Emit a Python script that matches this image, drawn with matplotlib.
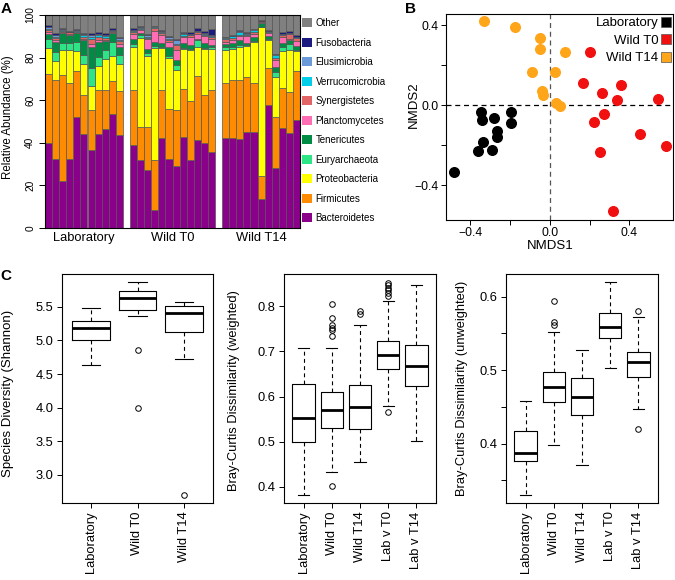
import numpy as np
import matplotlib
matplotlib.use("Agg")
import matplotlib.pyplot as plt
from matplotlib.patches import Patch

plt.rcParams['font.family'] = ['Liberation Sans', 'DejaVu Sans']
plt.rcParams['axes.linewidth'] = 0.8

W, H = 675, 580

# ---------------- Panel A: relative abundance (%) per sample ----------------
# samples: Laboratory (11), Wild T0 (12), Wild T14 (11)
groups = ['Laboratory', 'Wild T0', 'Wild T14']

bacteroidetes = [39.8, 32.3, 21.9, 32.3, 52.0, 44.2, 36.7, 44.2, 46.6, 53.6, 43.8,
                 39.1, 31.7, 27.3, 8.3, 42.2, 32.5, 28.9, 42.7, 32.0, 41.4, 39.8, 35.5,
                 42.2, 42.2, 41.7, 45.3, 45.3, 13.6, 57.8, 28.1, 46.9, 44.5, 50.5]
firmicutes = [32.3, 37.2, 50.0, 35.6, 21.9, 18.3, 18.8, 20.6, 18.0, 15.2, 20.6,
              25.8, 15.9, 20.3, 23.8, 22.7, 23.3, 26.6, 22.5, 27.8, 30.0, 22.7, 29.4,
              25.8, 27.3, 27.8, 25.5, 22.7, 10.6, 17.2, 24.2, 18.8, 19.5, 23.0]
proteobacteria = [12.5, 9.1, 11.7, 15.6, 9.4, 14.4, 11.4, 11.4, 14.7, 12.0, 12.5,
                  20.0, 41.6, 33.3, 52.3, 19.5, 23.9, 18.8, 18.8, 23.8, 13.8, 21.4, 19.1,
                  15.6, 14.4, 15.6, 14.7, 19.5, 70.0, 13.3, 18.8, 17.2, 19.5, 9.4]
euryarchaeota = [3.9, 3.8, 3.4, 3.4, 4.2, 4.4, 8.1, 4.2, 4.4, 6.7, 4.4,
                 1.6, 1.2, 1.1, 1.0, 0.8, 1.0, 2.3, 0.5, 0.5, 3.1, 0.5, 1.2,
                 1.6, 1.2, 0.8, 0.5, 0.5, 0.3, 0.5, 2.3, 2.3, 3.1, 0.8]
tenericutes = [2.8, 4.7, 4.4, 3.6, 3.9, 7.0, 10.2, 7.0, 3.9, 3.9, 3.9,
               2.2, 1.0, 1.9, 2.0, 1.6, 4.5, 2.3, 2.3, 1.6, 0.6, 2.3, 0.8,
               1.1, 1.9, 2.3, 0.9, 1.6, 1.9, 1.2, 2.3, 1.6, 1.6, 1.6]
planctomycetes = [0.6, 1.0, 0.4, 0.5, 0.3, 0.6, 1.0, 1.0, 0.8, 0.4, 1.0,
                  2.5, 1.6, 4.7, 5.0, 3.9, 2.3, 4.7, 2.8, 3.9, 2.3, 3.4, 2.7,
                  1.1, 1.1, 1.9, 3.1, 1.6, 0.3, 1.6, 3.1, 3.1, 0.5, 2.3]
synergistetes = [1.2, 1.2, 0.6, 0.8, 0.4, 1.0, 2.5, 1.2, 1.0, 0.5, 1.4,
                 0.8, 0.5, 0.5, 1.5, 0.8, 0.8, 2.3, 0.5, 0.8, 0.6, 0.6, 0.8,
                 1.2, 1.1, 0.5, 0.8, 0.6, 0.3, 0.5, 0.8, 0.5, 2.3, 1.6]
verrucomicrobia = [0.5, 0.6, 0.4, 0.2, 0.6, 0.5, 1.0, 0.8, 0.7, 0.3, 0.6,
                   0.5, 0.3, 0.5, 0.4, 0.4, 0.4, 0.4, 1.2, 0.4, 0.4, 0.4, 0.5,
                   0.5, 0.8, 1.6, 0.4, 1.2, 0.2, 0.3, 1.6, 0.3, 0.3, 0.3]
elusimicrobia = [0.8, 0.6, 0.4, 0.2, 0.3, 0.5, 1.0, 0.8, 0.7, 0.3, 0.8,
                 0.5, 0.4, 1.1, 0.4, 0.4, 1.2, 1.9, 0.3, 0.4, 0.4, 0.4, 0.5,
                 0.5, 0.3, 0.3, 0.3, 0.3, 0.2, 0.3, 0.3, 0.3, 0.3, 0.3]
fusobacteria = [0.8, 1.0, 0.5, 0.2, 0.3, 0.5, 0.8, 0.9, 0.7, 0.8, 0.6,
                0.8, 0.6, 0.3, 0.3, 0.8, 0.3, 0.3, 0.3, 0.8, 1.1, 0.9, 2.8,
                0.3, 0.3, 0.3, 0.3, 0.3, 0.2, 0.3, 0.3, 1.2, 0.8, 0.8]
other = [4.8, 8.5, 6.3, 7.6, 6.7, 8.6, 8.5, 7.9, 8.5, 6.3, 10.4,
         6.2, 5.2, 9.0, 5.0, 6.9, 9.8, 11.5, 8.1, 8.0, 6.3, 7.6, 6.7,
         10.1, 9.4, 7.2, 8.2, 6.4, 2.4, 7.0, 18.2, 7.8, 7.6, 9.4]

phyla = ['Bacteroidetes', 'Firmicutes', 'Proteobacteria', 'Euryarchaeota', 'Tenericutes',
         'Planctomycetes', 'Synergistetes', 'Verrucomicrobia', 'Elusimicrobia',
         'Fusobacteria', 'Other']
phylum_values = [bacteroidetes, firmicutes, proteobacteria, euryarchaeota, tenericutes,
                 planctomycetes, synergistetes, verrucomicrobia, elusimicrobia,
                 fusobacteria, other]
phylum_colors = ['#8B008B', '#FF8C00', '#FFFF00', '#2EE585', '#008C45',
                 '#FF6EB4', '#E36464', '#00CDE8', '#6A9AD8', '#1C1C80', '#808080']

# ---------------- Panel B: NMDS ----------------
lab_x = [-0.347, -0.341, -0.284, -0.196, -0.196, -0.265, -0.268, -0.339, -0.364, -0.294, -0.483]
lab_y = [-0.035, -0.073, -0.062, -0.035, -0.087, -0.130, -0.157, -0.182, -0.228, -0.225, -0.335]
t0_x = [0.200, 0.166, 0.356, 0.263, 0.337, 0.542, 0.273, 0.223, 0.453, 0.582, 0.253, 0.317]
t0_y = [0.267, 0.113, 0.100, 0.060, 0.028, 0.030, -0.043, -0.083, -0.142, -0.203, -0.235, -0.527]
t14_x = [-0.332, -0.176, -0.050, -0.050, 0.077, -0.091, 0.023, -0.040, -0.037, 0.029, 0.052]
t14_y = [0.423, 0.393, 0.338, 0.283, 0.267, 0.167, 0.167, 0.073, 0.052, 0.010, -0.003]

# ---------------- Panel C: boxplot summaries ----------------
shannon_labels = ['Laboratory', 'Wild T0', 'Wild T14']
shannon_lo = [4.63, 5.36, 4.73]
shannon_q1 = [5.00, 5.455, 5.12]
shannon_med = [5.18, 5.63, 5.40]
shannon_q3 = [5.29, 5.73, 5.515]
shannon_hi = [5.485, 5.86, 5.565]
shannon_out = [[], [4.85, 4.00], [2.70]]

bc_labels = ['Laboratory', 'Wild T0', 'Wild T14', 'Lab v T0', 'Lab v T14']
w_lo = [0.3815, 0.433, 0.455, 0.579, 0.502]
w_q1 = [0.500, 0.531, 0.528, 0.6605, 0.624]
w_med = [0.5535, 0.570, 0.576, 0.6915, 0.667]
w_q3 = [0.627, 0.609, 0.625, 0.723, 0.713]
w_hi = [0.707, 0.708, 0.759, 0.812, 0.846]
w_out = [[], [0.804, 0.774, 0.758, 0.752, 0.747, 0.734, 0.4015], [0.790, 0.782],
         [0.566, 0.822, 0.830, 0.835, 0.841, 0.846, 0.852], []]

u_lo = [0.3295, 0.3986, 0.3705, 0.5023, 0.4468]
u_q1 = [0.376, 0.4568, 0.4391, 0.5441, 0.4909]
u_med = [0.3873, 0.4773, 0.4641, 0.5582, 0.5109]
u_q3 = [0.4173, 0.4977, 0.4895, 0.5773, 0.5241]
u_hi = [0.458, 0.5514, 0.5268, 0.6205, 0.5727]
u_out = [[], [0.5945, 0.566, 0.5614], [], [], [0.5809, 0.4195]]


def px_axes(fig, left, top, right, bottom):
    return fig.add_axes([left / W, 1 - bottom / H, (right - left) / W, (bottom - top) / H])


fig = plt.figure(figsize=(W / 100, H / 100), dpi=100)

# ---- A ----
axA = px_axes(fig, 45, 15, 300, 228)
x_pos = np.concatenate([np.arange(0, 11), np.arange(12, 24), np.arange(25, 36)])
bottom = np.zeros(len(x_pos))
for name, vals, col in zip(phyla, phylum_values, phylum_colors):
    vals = np.array(vals)
    axA.bar(x_pos, vals, width=1.0, bottom=bottom, align='edge', color=col,
            edgecolor='#555555', linewidth=0.5)
    bottom += vals
axA.set_xlim(0, 36)
axA.set_ylim(0, 100)
axA.set_yticks([0, 20, 40, 60, 80, 100])
axA.tick_params(axis='y', direction='out', length=4, width=0.7, labelsize=7.3, pad=3,
                labelrotation=90)
for lbl in axA.get_yticklabels():
    lbl.set_va('center')
axA.set_xticks([5.5, 18, 30.5])
axA.set_xticklabels(groups, fontsize=9.3)
axA.tick_params(axis='x', length=0, pad=3)
axA.set_ylabel('Relative Abundance (%)', fontsize=8.3)
axA.yaxis.set_label_coords(-0.122, 0.52)

handles = [Patch(facecolor=c, edgecolor='none') for c in phylum_colors[::-1]]
fig.legend(handles, phyla[::-1], loc='upper left', bbox_to_anchor=(302 / W, 1 - 18 / H),
           frameon=False, fontsize=7, handlelength=1.05, handleheight=1.05,
           handletextpad=0.35, labelspacing=0.98, borderpad=0, borderaxespad=0)

# ---- B ----
axB = px_axes(fig, 446, 14, 673, 220)
axB.axhline(0, color='black', ls=(0, (4, 3)), lw=0.9, zorder=1)
axB.axvline(0, color='#555555', ls=(0, (4, 3)), lw=0.9, zorder=1)
axB.scatter(lab_x, lab_y, s=48, color='black', zorder=3)
axB.scatter(t0_x, t0_y, s=48, color='#F01010', zorder=3)
axB.scatter(t14_x, t14_y, s=48, color='#FFA51A', zorder=3)
axB.set_xlim(-0.523, 0.619)
axB.set_ylim(-0.574, 0.456)
axB.set_xticks([-0.4, -0.2, 0.0, 0.2, 0.4])
axB.set_xticklabels(['\u22120.4', '', '0.0', '', '0.4'])
axB.set_yticks([-0.4, -0.2, 0.0, 0.2, 0.4])
axB.set_yticklabels(['\u22120.4', '', '0.0', '', '0.4'])
axB.tick_params(direction='out', length=3.6, width=0.7, labelsize=8.7, pad=1.5)
axB.set_xlabel('NMDS1', fontsize=9.5)
axB.xaxis.set_label_coords(0.458, -0.095)
axB.set_ylabel('NMDS2', fontsize=9.5)
axB.yaxis.set_label_coords(-0.115, 0.56)
leg_handles = [Patch(facecolor='black', edgecolor='#555555', lw=0.5),
               Patch(facecolor='#F01010', edgecolor='#555555', lw=0.5),
               Patch(facecolor='#FFA51A', edgecolor='#555555', lw=0.5)]
axB.legend(leg_handles, groups, loc='upper right', bbox_to_anchor=(1.0, 0.995),
           frameon=False, markerfirst=False, fontsize=9.5, handlelength=0.75,
           handleheight=0.75, handletextpad=0.2, labelspacing=0.38,
           borderpad=0.15, borderaxespad=0)


# ---- C ----
def draw_box(ax, labels, lo, q1, med, q3, hi, out):
    stats = []
    for i in range(len(labels)):
        stats.append(dict(whislo=lo[i], q1=q1[i], med=med[i], q3=q3[i], whishi=hi[i],
                          fliers=out[i], label=labels[i]))
    ax.bxp(stats, widths=0.8, capwidths=0.4, showfliers=True,
           boxprops=dict(color='black', lw=0.8),
           medianprops=dict(color='black', lw=2.0),
           whiskerprops=dict(color='black', lw=0.8, ls=(0, (3.5, 3))),
           capprops=dict(color='black', lw=0.8),
           flierprops=dict(marker='o', mfc='none', mec='black', ms=4, mew=0.7))
    ax.tick_params(direction='out', length=3.6, width=0.7, labelsize=9.3, pad=2.5)
    ax.tick_params(axis='x', labelrotation=90)
    ax.set_xlim(0.3 if len(labels) == 5 else 0.38, len(labels) + (0.7 if len(labels) == 5 else 0.62))


axC1 = px_axes(fig, 62, 274, 213, 503)
draw_box(axC1, shannon_labels, shannon_lo, shannon_q1, shannon_med, shannon_q3,
         shannon_hi, shannon_out)
axC1.set_ylim(2.584, 5.986)
axC1.set_yticks([3.0, 3.5, 4.0, 4.5, 5.0, 5.5])
axC1.set_ylabel('Species Diversity (Shannon)', fontsize=9.5)
axC1.yaxis.set_label_coords(-0.318, 0.478)

axC2 = px_axes(fig, 284, 274, 436, 503)
draw_box(axC2, bc_labels, w_lo, w_q1, w_med, w_q3, w_hi, w_out)
axC2.set_ylim(0.3646, 0.871)
axC2.set_yticks([0.4, 0.5, 0.6, 0.7, 0.8])
axC2.set_ylabel('Bray-Curtis Dissimilarity (weighted)', fontsize=9.3)
axC2.yaxis.set_label_coords(-0.29, 0.493)

axC3 = px_axes(fig, 506, 274, 658, 503)
draw_box(axC3, bc_labels, u_lo, u_q1, u_med, u_q3, u_hi, u_out)
axC3.set_ylim(0.319, 0.631)
axC3.set_yticks([0.35, 0.4, 0.45, 0.5, 0.55, 0.6])
axC3.set_yticklabels(['', '0.4', '', '0.5', '', '0.6'])
axC3.set_ylabel('Bray-Curtis Dissimilarity (unweighted)', fontsize=9.3)
axC3.yaxis.set_label_coords(-0.25, 0.5)

# panel letters
for letter, (px, py) in zip('ABC', [(6, 9), (410, 9), (6, 276)]):
    fig.text(px / W, 1 - py / H, letter, fontsize=11, fontweight='bold',
             ha='center', va='center')

fig.savefig('out.png', dpi=100)
